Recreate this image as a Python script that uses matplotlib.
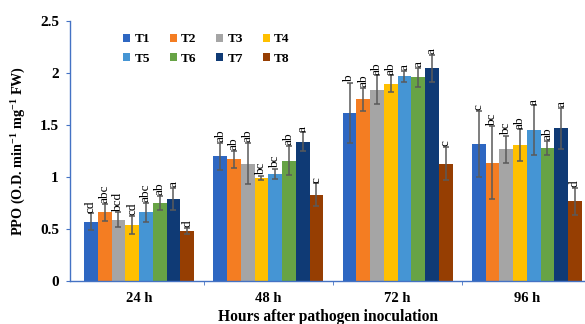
import matplotlib
import matplotlib.pyplot as plt
import numpy as np

matplotlib.use('Agg')

plt.rcParams['font.family'] = ['Liberation Serif', 'DejaVu Serif']
plt.rcParams['mathtext.fontset'] = 'custom'
plt.rcParams['mathtext.rm'] = 'Liberation Serif:bold'
plt.rcParams['mathtext.default'] = 'rm'

hours = ['24 h', '48 h', '72 h', '96 h']
treatments = ['T1', 'T2', 'T3', 'T4', 'T5', 'T6', 'T7', 'T8']
colors = ['#2E67C2', '#F47D22', '#A5A5A5', '#FFC000',
          '#4595D4', '#67A345', '#0F3A75', '#963E02']

# PPO activity, one row per treatment, columns = 24/48/72/96 h
ppo = [
    [0.57, 1.20, 1.62, 1.32],
    [0.66, 1.17, 1.75, 1.14],
    [0.59, 1.13, 1.84, 1.27],
    [0.54, 0.99, 1.90, 1.31],
    [0.66, 1.03, 1.97, 1.45],
    [0.75, 1.16, 1.96, 1.28],
    [0.79, 1.34, 2.05, 1.47],
    [0.48, 0.83, 1.13, 0.77],
]
err = [
    [0.08, 0.13, 0.29, 0.32],
    [0.08, 0.08, 0.11, 0.35],
    [0.07, 0.20, 0.14, 0.13],
    [0.09, 0.02, 0.08, 0.15],
    [0.09, 0.05, 0.05, 0.24],
    [0.07, 0.14, 0.09, 0.07],
    [0.11, 0.09, 0.13, 0.20],
    [0.03, 0.11, 0.16, 0.13],
]
letters = [
    ['cd', 'ab', 'b', 'c'],
    ['abc', 'ab', 'ab', 'bc'],
    ['bcd', 'ab', 'ab', 'bc'],
    ['cd', 'bc', 'ab', 'ab'],
    ['abc', 'bc', 'a', 'a'],
    ['ab', 'ab', 'a', 'ab'],
    ['a', 'a', 'a', 'a'],
    ['d', 'c', 'c', 'd'],
]

fig = plt.figure(figsize=(5.85, 3.24), dpi=100)
ax = fig.add_axes([0.1197, 0.1327, 0.8803, 0.8015])

x = np.arange(len(hours))
w = 0.85 / len(treatments)
bars = []
for i, t in enumerate(treatments):
    xs = x + (i - 3.5) * w
    b = ax.bar(xs, ppo[i], width=w, color=colors[i], label=t, zorder=2)
    bars.append(b)
    ax.errorbar(xs, ppo[i], yerr=err[i], fmt='none', ecolor='#5a5a5a',
                elinewidth=1.1, capsize=2.2, capthick=1.1, zorder=3)
    for xi, v, e, s in zip(xs, ppo[i], err[i], letters[i]):
        ax.annotate(s, xy=(xi, v + e), xytext=(0, 0.5), textcoords='offset points',
                    rotation=90, ha='center', va='bottom', fontsize=9.5, zorder=4)

ax.set_ylim(0, 2.5)
ax.set_xlim(-0.534, 3.45)
ax.set_yticks([0, 0.5, 1, 1.5, 2, 2.5])
ax.set_yticklabels(['0', '0.5', '1', '1.5', '2', '2.5'], fontweight='bold', fontsize=11)
ax.set_xticks(x)
ax.set_xticklabels(hours, fontweight='bold', fontsize=10.5)
ax.set_xticks(x[:-1] + 0.5, minor=True)

axis_blue = '#4472C4'
for side in ['top', 'right']:
    ax.spines[side].set_visible(False)
for side in ['left', 'bottom']:
    ax.spines[side].set_color(axis_blue)
    ax.spines[side].set_linewidth(1.0)
ax.tick_params(axis='y', length=3, color=axis_blue, pad=5)
ax.tick_params(axis='x', which='major', length=0, pad=8)
ax.tick_params(axis='x', which='minor', length=3, color=axis_blue)

ax.set_ylabel(r'PPO (O.D. min$^{-1}$ mg$^{-1}$ FW)', fontweight='bold', fontsize=10.3)
ax.yaxis.set_label_coords(-0.082, 0.5)
ax.set_xlabel('Hours after pathogen inoculation', fontweight='bold', fontsize=11.2, labelpad=3)

# legend fills row by row: T1..T4 on top, T5..T8 below
order = [0, 4, 1, 5, 2, 6, 3, 7]
ax.legend([bars[k] for k in order], [treatments[k] for k in order],
          ncol=4, loc='upper left', bbox_to_anchor=(0.08, 1.0), frameon=False,
          prop={'weight': 'bold', 'size': 9.5}, handlelength=0.55, handleheight=0.55,
          handletextpad=0.3, columnspacing=1.5, labelspacing=0.6)

fig.savefig('out.png', dpi=100)
plt.close(fig)
